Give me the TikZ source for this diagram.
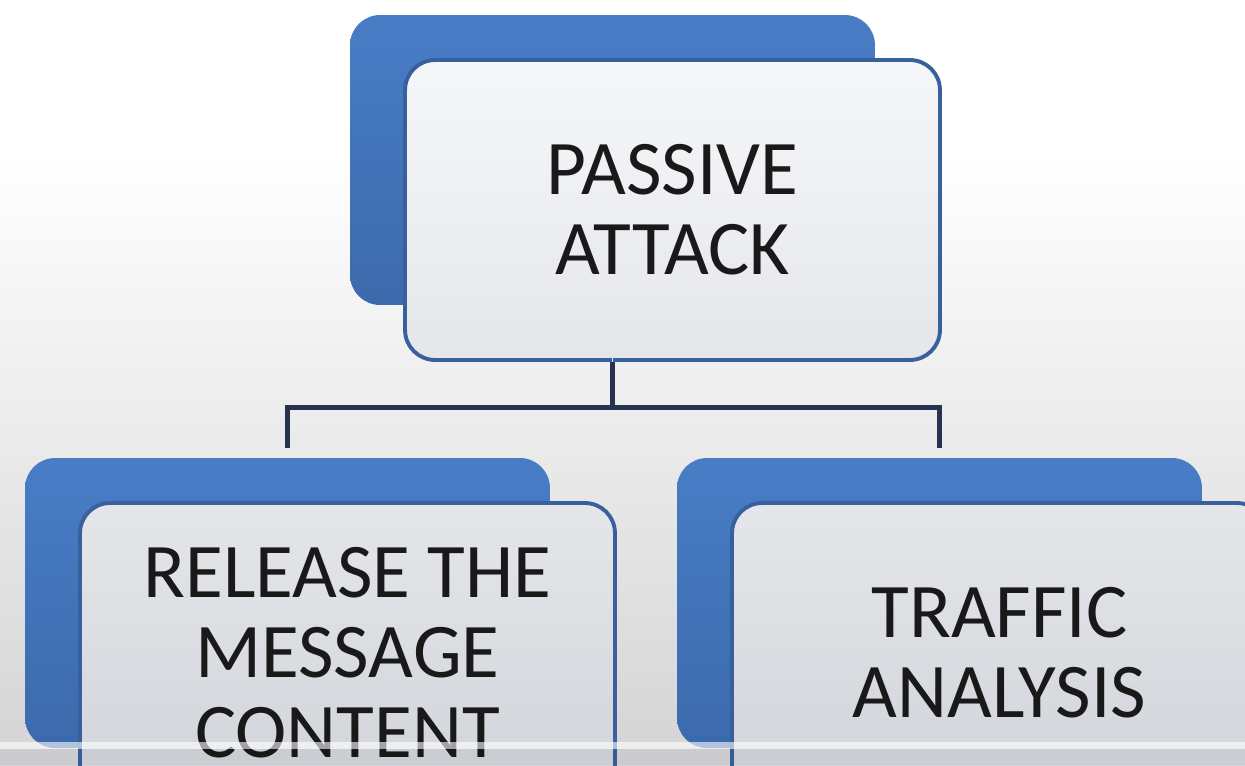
\documentclass[tikz,border=0pt]{standalone}
\usepackage{fontspec}
\setmainfont{Carlito}
\usetikzlibrary{calc}

\definecolor{backblue}{RGB}{72,125,198}
\definecolor{backblue2}{RGB}{60,106,172}
\definecolor{frontline}{RGB}{56,96,156}
\definecolor{linkcol}{RGB}{38,50,78}
\definecolor{bggrey}{RGB}{212,212,214}

\begin{document}
\begin{tikzpicture}[x=0.02cm,y=-0.02cm,
    back/.style={rounded corners=0.6cm, minimum width=10.5cm, minimum height=5.8cm,
        top color=backblue, bottom color=backblue2, inner sep=0},
    front/.style={draw=frontline, line width=2.2pt, rounded corners=0.6cm,
        minimum width=10.7cm, minimum height=6cm, inner sep=0, align=center,
        text=black!90, font=\fontsize{44}{45.5}\selectfont},
    link/.style={draw=linkcol, line width=2.6pt}]
    \useasboundingbox (0,0) rectangle (1245,765);
    \clip (0,0) rectangle (1245,765);

    % background
    \fill[white] (0,0) rectangle (1245,150);
    \shade[top color=white, bottom color=bggrey] (0,150) rectangle (1245,765);

    % back boxes
    \node[back] (pa) at (612.5,160) {};
    \node[back] (rmc) at (287.5,603) {};
    \node[back] (ta) at (939.5,603) {};
    \coordinate (fork) at ($(pa.south)+(0,102)$);

    % links
    \draw[link] (pa.south) -- (fork);
    \draw[link, shorten <=0.2cm, shorten >=0.2cm] (rmc.north) |- (fork) -| (ta.north);

    % front boxes
    \node[front, top color={rgb,255:red,246;green,247;blue,249}, bottom color={rgb,255:red,228;green,230;blue,234}]
        (paf) at ($(pa)+(60,50)$) {PASSIVE\\ATTACK};
    \node[front, top color={rgb,255:red,228;green,230;blue,234}, bottom color={rgb,255:red,208;green,211;blue,216}]
        (rmcf) at ($(rmc)+(60,50)$) {RELEASE THE\\MESSAGE\\CONTENT};
    \node[front, top color={rgb,255:red,228;green,230;blue,234}, bottom color={rgb,255:red,208;green,211;blue,216}]
        (taf) at ($(ta)+(60,50)$) {TRAFFIC\\ANALYSIS};

    % link seen faintly through the top box
    \draw[linkcol!12, line width=1pt] ($(pa.south)+(0,15)$) -- (pa.south |- paf.south);

    % player strip at the bottom
    \fill[white, opacity=0.6] (0,742) rectangle (1245,749);
    \fill[black, opacity=0.04] (0,749) rectangle (1245,765);
\end{tikzpicture}
\end{document}
